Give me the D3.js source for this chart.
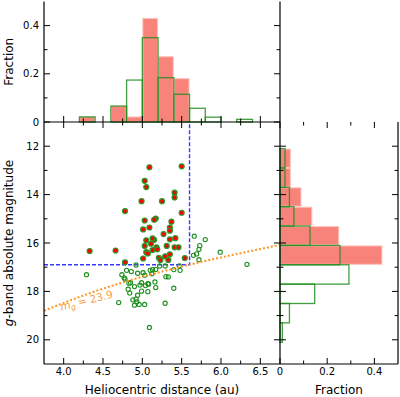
<!DOCTYPE html>
<html><head><meta charset="utf-8">
<script src="https://cdn.jsdelivr.net/npm/d3@7"></script>
<style>
body{margin:0;background:#fff}
svg{display:block;font-family:"DejaVu Sans",sans-serif}
</style>
</head><body>
<svg id="c" width="400" height="397"></svg>
<script>
// ---------------- data ----------------
// selected sample (filled red points)
const redDist = [5.09,5.50,5.03,5.05,4.99,5.25,5.41,5.41,4.78,5.50,5.03,5.17,5.15,5.37,5.09,5.01,5.35,5.35,5.27,5.05,5.15,5.13,5.35,5.42,5.03,5.11,5.31,5.18,5.41,5.46,5.13,5.05,5.07,5.19,4.33,4.66,5.35,5.01,5.29,5.21,5.23,5.33,5.54,4.78];
const redMag  = [12.87,12.83,13.43,13.69,14.27,14.27,13.92,14.12,14.68,14.75,15.07,14.99,15.04,15.12,15.36,15.44,15.36,15.49,15.63,15.89,15.87,15.81,15.85,15.80,16.12,16.03,16.12,16.18,16.18,16.18,16.29,16.38,16.43,16.26,16.33,16.31,16.47,16.64,16.55,16.61,16.70,16.70,16.62,16.80];
// remaining objects (open green circles)
const openDist = [5.66,5.80,5.73,5.72,5.69,5.65,5.72,5.99,6.33,4.92,4.29,4.80,4.86,4.74,4.77,4.78,4.94,5.01,5.03,5.10,5.13,5.17,5.12,5.22,5.29,5.47,5.48,5.40,5.30,5.33,4.83,4.85,4.90,4.82,4.84,4.97,4.99,5.04,5.07,5.08,5.16,5.17,4.99,5.07,4.94,4.92,4.88,4.93,4.90,4.96,5.03,4.70,5.29,5.40,5.09];
const openMag  = [15.72,15.86,16.11,16.26,16.45,16.51,16.69,16.38,16.88,16.91,17.31,17.13,17.18,17.31,17.44,17.49,17.25,17.23,17.33,17.13,17.10,17.09,17.27,16.95,16.95,16.95,17.13,17.10,17.39,17.40,17.66,17.64,17.80,17.91,18.07,17.74,17.64,17.76,17.68,17.70,17.61,17.84,17.99,18.01,18.16,18.32,18.35,18.43,18.57,18.54,18.54,18.46,18.49,17.87,19.49];

// distance histogram (top)
const distEdges   = [4.2,4.4,4.6,4.8,5.0,5.2,5.4,5.6,5.8,6.0,6.2,6.4];
const distFracSel = [0.023,0,0.068,0.023,0.432,0.273,0.182,0,0,0,0];
const distFracAll = [0.021,0,0.066,0.174,0.350,0.184,0.115,0.057,0.020,0,0.011];

// magnitude histogram (right)
const magEdges   = [12.1,12.9,13.7,14.5,15.3,16.1,16.9,17.7,18.5,19.3,20.1];
const magFracSel = [0.046,0.046,0.091,0.137,0.251,0.434,0,0,0,0];
const magFracAll = [0.021,0.021,0.040,0.059,0.127,0.254,0.292,0.147,0.040,0.010];

// limiting-magnitude curve m_g = 23.9
const limitDist = [3.75,4.25,4.75,5.25,5.75,6.25,6.75];
const limitMag  = [18.80,18.17,17.63,17.18,16.78,16.42,16.08];

// selection cuts
const cutDist = 5.6, cutMag = 16.9;

// ticks
const distTicks = [4.0,4.5,5.0,5.5,6.0,6.5];
const distMinor = [4.25,4.75,5.25,5.75,6.25];
const magTicks = [12,14,16,18,20];
const magMinor = [13,15,17,19];
const fracTicks = [0,0.2,0.4];
const fracMinor = [0.1,0.3];

// ---------------- layout ----------------
const L = 44, M = 280, R = 398;
const T = 1.5, Y0 = 122, B = 364;

const x  = d3.scaleLinear().domain([3.75, 6.75]).range([L, M]);
const y  = d3.scaleLinear().domain([11, 21]).range([Y0, B]);
const yT = d3.scaleLinear().domain([0, 0.5]).range([Y0, T]);
const xR = d3.scaleLinear().domain([0, 0.5]).range([M, R]);

const svg = d3.select("#c");
const fmtFrac = d => d === 0 ? "0" : d3.format(".1f")(d);

const SALMON = "#f8837a", SALMON_EDGE = "#fcc4bd";
const GREEN = "#1f8f1f";

// ---------------- top histogram ----------------
const gTop = svg.append("g");
gTop.selectAll("rect.sel").data(distFracSel.map((v,i)=>({v,i})).filter(d=>d.v>0)).join("rect")
  .attr("class","sel")
  .attr("x", d => x(distEdges[d.i]) + 0.5)
  .attr("width", d => x(distEdges[d.i+1]) - x(distEdges[d.i]) - 1)
  .attr("y", d => yT(d.v) + 0.5)
  .attr("height", d => yT(0) - yT(d.v) - 0.5)
  .attr("fill", SALMON).attr("stroke", SALMON_EDGE).attr("stroke-width", 1);
gTop.selectAll("rect.all").data(distFracAll.map((v,i)=>({v,i})).filter(d=>d.v>0)).join("rect")
  .attr("class","all")
  .attr("x", d => x(distEdges[d.i]))
  .attr("width", d => x(distEdges[d.i+1]) - x(distEdges[d.i]))
  .attr("y", d => yT(d.v))
  .attr("height", d => yT(0) - yT(d.v))
  .attr("fill", "none").attr("stroke", GREEN).attr("stroke-width", 1.3).attr("stroke-opacity", 0.85);

// ---------------- right histogram ----------------
const gR = svg.append("g");
gR.selectAll("rect.sel").data(magFracSel.map((v,i)=>({v,i})).filter(d=>d.v>0)).join("rect")
  .attr("class","sel")
  .attr("y", d => y(magEdges[d.i]) + 0.5)
  .attr("height", d => y(magEdges[d.i+1]) - y(magEdges[d.i]) - 1)
  .attr("x", d => xR(0))
  .attr("width", d => xR(d.v) - xR(0) - 0.5)
  .attr("fill", SALMON).attr("stroke", SALMON_EDGE).attr("stroke-width", 1);
gR.selectAll("rect.all").data(magFracAll.map((v,i)=>({v,i})).filter(d=>d.v>0)).join("rect")
  .attr("class","all")
  .attr("y", d => y(magEdges[d.i]))
  .attr("height", d => y(magEdges[d.i+1]) - y(magEdges[d.i]))
  .attr("x", d => xR(0))
  .attr("width", d => xR(d.v) - xR(0))
  .attr("fill", "none").attr("stroke", GREEN).attr("stroke-width", 1.3).attr("stroke-opacity", 0.85);

// ---------------- main scatter ----------------
const gM = svg.append("g");
svg.append("clipPath").attr("id","mclip").append("rect")
  .attr("x", L).attr("y", Y0).attr("width", M-L).attr("height", B-Y0);

gM.append("path")
  .attr("d", d3.line()([[x(3.75), y(cutMag)], [x(cutDist), y(cutMag)], [x(cutDist), y(11)]]))
  .attr("fill","none").attr("stroke","#2323ff").attr("stroke-width",1.4)
  .attr("stroke-dasharray","4,2").attr("stroke-opacity",0.9);

gM.selectAll("circle.open").data(openDist.map((d,i)=>[d, openMag[i]])).join("circle")
  .attr("class","open")
  .attr("cx", d => x(d[0])).attr("cy", d => y(d[1])).attr("r", 2.1)
  .attr("fill","none").attr("stroke", GREEN).attr("stroke-width", 1.1);

gM.selectAll("circle.sel").data(redDist.map((d,i)=>[d, redMag[i]])).join("circle")
  .attr("class","sel")
  .attr("cx", d => x(d[0])).attr("cy", d => y(d[1])).attr("r", 2.5)
  .attr("fill","#ff0000").attr("stroke", "#2a982a").attr("stroke-width", 1.2);

gM.append("path")
  .attr("clip-path","url(#mclip)")
  .attr("d", d3.line().curve(d3.curveMonotoneX).x(d => x(d[0])).y(d => y(d[1]))(limitDist.map((d,i)=>[d, limitMag[i]])))
  .attr("fill","none").attr("stroke","#ff9420").attr("stroke-width",2)
  .attr("stroke-dasharray","2,2");

const lab = gM.append("text")
  .attr("transform", `translate(${x(3.97)},${y(18.79)}) rotate(-14)`)
  .attr("fill","#f7a040").attr("font-size", 10.5);
lab.append("tspan").attr("font-style","italic").text("m");
lab.append("tspan").attr("font-style","italic").attr("font-size", 7.5).attr("dy", 2).text("g");
lab.append("tspan").attr("dy", -2).text(" = 23.9");

// ---------------- spines & ticks ----------------
const axG = svg.append("g").attr("stroke","#000").attr("fill","none");
function seg(x1,y1,x2,y2,w){ axG.append("line").attr("x1",x1).attr("y1",y1).attr("x2",x2).attr("y2",y2).attr("stroke-width", w||1.2); }
const MAJ = 6, MIN = 3.5;

seg(L, T, L, B);
seg(M, T, M, B);
seg(R, Y0, R, B);
seg(L, Y0, M, Y0);
seg(L, B, R, B);

distTicks.forEach(v => { const px = x(v); seg(px, Y0-MAJ, px, Y0+MAJ, 1); seg(px, B, px, B-MAJ, 1); });
distMinor.forEach(v => { const px = x(v); seg(px, Y0-MIN, px, Y0+MIN, 1); seg(px, B, px, B-MIN, 1); });

magTicks.forEach(v => { const py = y(v); seg(L, py, L+MAJ, py, 1); seg(M-MAJ, py, M+MAJ, py, 1); seg(R-MAJ, py, R, py, 1); });
magMinor.forEach(v => { const py = y(v); seg(L, py, L+MIN, py, 1); seg(M-MIN, py, M+MIN, py, 1); seg(R-MIN, py, R, py, 1); });

fracTicks.forEach(v => { const py = yT(v); seg(L, py, L+MAJ, py, 1); seg(M-MAJ, py, M, py, 1); });
fracMinor.forEach(v => { const py = yT(v); seg(L, py, L+MIN, py, 1); seg(M-MIN, py, M, py, 1); });

fracTicks.forEach(v => { const px = xR(v); seg(px, B, px, B-MAJ, 1); seg(px, Y0, px, Y0+MAJ, 1); });
fracMinor.forEach(v => { const px = xR(v); seg(px, B, px, B-MIN, 1); seg(px, Y0, px, Y0+MIN, 1); });

// ---------------- tick labels ----------------
const txt = svg.append("g").attr("fill","#000").attr("font-size", 10);
distTicks.forEach(v => txt.append("text").attr("x", x(v)).attr("y", B + 11).attr("text-anchor","middle").text(d3.format(".1f")(v)));
fracTicks.forEach(v => txt.append("text").attr("x", xR(v)).attr("y", B + 11).attr("text-anchor","middle").text(fmtFrac(v)));
magTicks.forEach(v => txt.append("text").attr("x", L - 5).attr("y", y(v) + 3.6).attr("text-anchor","end").text(v));
fracTicks.forEach(v => txt.append("text").attr("x", L - 5).attr("y", yT(v) + 3.6).attr("text-anchor","end").text(fmtFrac(v)));

// ---------------- axis labels ----------------
const lbl = svg.append("g").attr("fill","#000").attr("font-size", 12);
lbl.append("text").attr("x", (L+M)/2).attr("y", 394).attr("text-anchor","middle").text("Heliocentric distance (au)");
lbl.append("text").attr("x", (M+R)/2).attr("y", 394).attr("text-anchor","middle").text("Fraction");
lbl.append("text").attr("transform", `translate(13,${(T+Y0)/2}) rotate(-90)`).attr("text-anchor","middle").text("Fraction");
const yl = lbl.append("text").attr("transform", `translate(13,${(Y0+B)/2}) rotate(-90)`).attr("text-anchor","middle");
yl.append("tspan").attr("font-style","italic").text("g");
yl.append("tspan").text("-band absolute magnitude");
</script>
</body></html>
